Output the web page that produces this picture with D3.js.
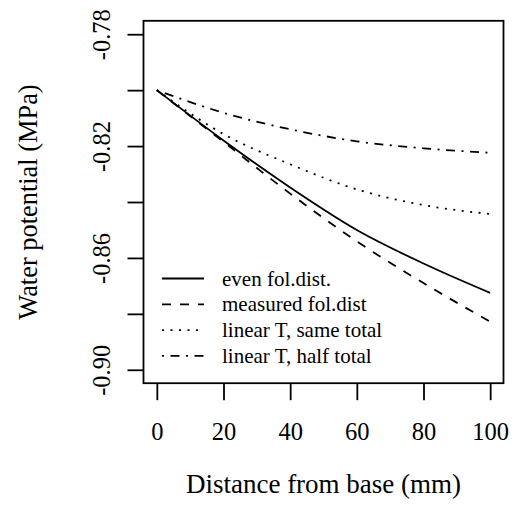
<!DOCTYPE html>
<html>
<head>
<meta charset="utf-8">
<script src="https://cdn.jsdelivr.net/npm/d3@7"></script>
<style>
  body { margin: 0; background: #fff; }
  svg { display: block; }
</style>
</head>
<body>
<script>
// distance from base (mm) and water potential (MPa) per scenario
var distance = [0, 20, 40, 60, 80, 100];
var evenFol = [-0.800, -0.8180, -0.8348, -0.8500, -0.8620, -0.8725];
var measuredFol = [-0.800, -0.8185, -0.8370, -0.8541, -0.8690, -0.8828];
var linearSame = [-0.800, -0.8157, -0.8265, -0.8355, -0.8411, -0.8443];
var linearHalf = [-0.800, -0.8081, -0.8140, -0.8183, -0.8208, -0.8224];

var xTicks = [0, 20, 40, 60, 80, 100];
var yTicks = [-0.90, -0.88, -0.86, -0.84, -0.82, -0.80, -0.78];
var yLabels = ["-0.90", "-0.86", "-0.82", "-0.78"];
var seriesNames = ["even fol.dist.", "measured fol.dist", "linear T, same total", "linear T, half total"];

var serif = "'Liberation Serif', 'Times New Roman', 'DejaVu Serif', serif";
var width = 516, height = 512;
var mLeft = 143.5, mRight = 503.5, mTop = 20.8, mBottom = 383.2;

var svg = d3.select("body").append("svg")
  .attr("width", width)
  .attr("height", height)
  .style("font-family", serif);

var x = d3.scaleLinear().domain([-4, 104]).range([mLeft, mRight]);
var y = d3.scaleLinear().domain([-0.9048, -0.7752]).range([mBottom, mTop]);

var dashes = ["none", "9,9", "2,6.5", "2,6.5,9,6.5"];
var series = [evenFol, measuredFol, linearSame, linearHalf];

var line = d3.line()
  .x(function(d, i) { return x(distance[i]); })
  .y(function(d) { return y(d); })
  .curve(d3.curveMonotoneX);

series.forEach(function(s, i) {
  svg.append("path")
    .datum(s)
    .attr("d", line)
    .attr("fill", "none")
    .attr("stroke", "#000")
    .attr("stroke-width", 1.8)
    .attr("stroke-dasharray", dashes[i]);
});

// box
svg.append("rect")
  .attr("x", mLeft).attr("y", mTop)
  .attr("width", mRight - mLeft).attr("height", mBottom - mTop)
  .attr("fill", "none").attr("stroke", "#000").attr("stroke-width", 1.8);

// x axis
var xAxis = svg.append("g")
  .attr("transform", "translate(0," + mBottom + ")")
  .call(d3.axisBottom(x).tickValues(xTicks).tickSize(17).tickPadding(22));
xAxis.attr("font-family", null).attr("font-size", null);
xAxis.select(".domain").remove();
xAxis.selectAll("line").attr("stroke-width", 1.8);
xAxis.selectAll("text").style("font-family", serif).style("font-size", "24.5px");

// y axis
var yAxis = svg.append("g")
  .attr("transform", "translate(" + mLeft + ",0)")
  .call(d3.axisLeft(y).tickValues(yTicks).tickSize(16)
    .tickFormat(function(d) {
      var s = d.toFixed(2);
      return yLabels.indexOf(s) >= 0 ? s : "";
    }));
yAxis.attr("font-family", null).attr("font-size", null);
yAxis.select(".domain").remove();
yAxis.selectAll("line").attr("stroke-width", 1.8);
yAxis.selectAll("text")
  .attr("transform", "rotate(-90)")
  .attr("text-anchor", "middle")
  .attr("x", 0)
  .attr("y", -34)
  .attr("dy", 0)
  .style("font-family", serif)
  .style("font-size", "24.5px");

// axis titles
svg.append("text")
  .attr("x", 323.5)
  .attr("y", 493)
  .attr("text-anchor", "middle")
  .style("font-size", "27px")
  .text("Distance from base (mm)");

svg.append("text")
  .attr("transform", "translate(36.5," + ((mTop + mBottom) / 2) + ") rotate(-90)")
  .attr("text-anchor", "middle")
  .style("font-size", "26.4px")
  .text("Water potential (MPa)");

// legend
var legend = svg.append("g");
seriesNames.forEach(function(name, i) {
  var ly = 278.5 + i * 25.8;
  legend.append("line")
    .attr("x1", 162).attr("x2", 204)
    .attr("y1", ly).attr("y2", ly)
    .attr("stroke", "#000").attr("stroke-width", 1.8)
    .attr("stroke-dasharray", dashes[i]);
  legend.append("text")
    .attr("x", 222)
    .attr("y", ly + 7)
    .style("font-size", "21px")
    .text(name);
});
</script>
</body>
</html>
